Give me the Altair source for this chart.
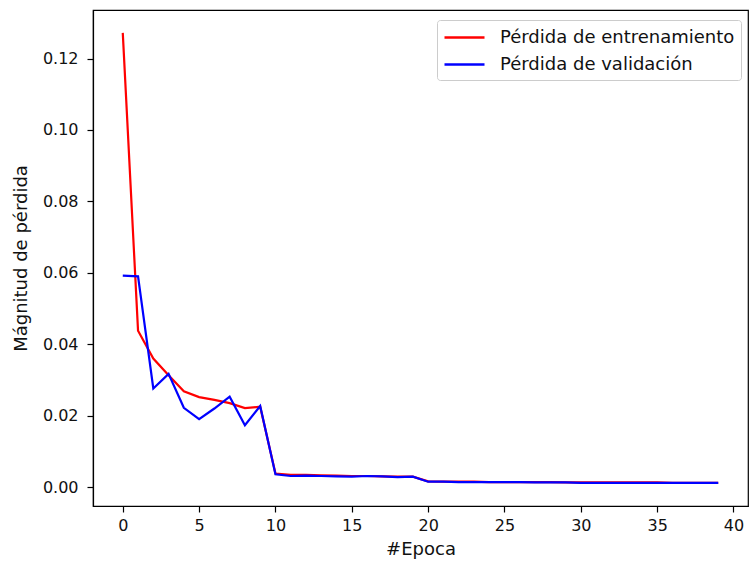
import altair as alt
import pandas as pd

epochs = list(range(40))
train_loss = [0.1272, 0.0438, 0.0360, 0.0313, 0.0268, 0.0252, 0.0244, 0.0235, 0.0221, 0.0225,
              0.0038, 0.0034, 0.0034, 0.0033, 0.0032, 0.0031, 0.0031, 0.0030, 0.0029, 0.0029,
              0.0016, 0.0015, 0.0015, 0.0015, 0.0014, 0.0014, 0.0014, 0.0014, 0.0014, 0.0013,
              0.0013, 0.0013, 0.0013, 0.0013, 0.0013, 0.0013, 0.0012, 0.0012, 0.0012, 0.0012]
val_loss = [0.0592, 0.0590, 0.0276, 0.0317, 0.0222, 0.0190, 0.0220, 0.0253, 0.0173, 0.0227,
            0.0036, 0.0031, 0.0032, 0.0031, 0.0030, 0.0029, 0.0031, 0.0030, 0.0028, 0.0029,
            0.0015, 0.0015, 0.0014, 0.0014, 0.0014, 0.0014, 0.0014, 0.0013, 0.0013, 0.0013,
            0.0012, 0.0012, 0.0012, 0.0012, 0.0012, 0.0012, 0.0012, 0.0012, 0.0012, 0.0012]
series_names = ["Pérdida de entrenamiento", "Pérdida de validación"]
series_colors = ["red", "blue"]

rows = []
for e, v in zip(epochs, train_loss):
    rows.append({"epoch": e, "loss": v, "serie": series_names[0], "ord": 0})
for e, v in zip(epochs, val_loss):
    rows.append({"epoch": e, "loss": v, "serie": series_names[1], "ord": 1})
df = pd.DataFrame(rows)

FONT = "DejaVu Sans"

chart = alt.Chart(df).mark_line(strokeWidth=2.2, clip=True).encode(
    x=alt.X("epoch:Q",
            scale=alt.Scale(domain=[-1.95, 40.95], nice=False, zero=False),
            axis=alt.Axis(values=[0, 5, 10, 15, 20, 25, 30, 35, 40], title="#Epoca",
                          format="d", grid=False)),
    y=alt.Y("loss:Q",
            scale=alt.Scale(domain=[-0.0053, 0.1336], nice=False, zero=False),
            axis=alt.Axis(values=[0.0, 0.02, 0.04, 0.06, 0.08, 0.1, 0.12],
                          title="Mágnitud de pérdida", format=".2f", grid=False)),
    color=alt.Color("serie:N",
                    scale=alt.Scale(domain=series_names, range=series_colors),
                    legend=alt.Legend(title=None, orient="none", legendX=344, legendY=10,
                                      symbolType="M-1,0H3", symbolSize=400,
                                      symbolStrokeWidth=2.4, labelFontSize=18,
                                      labelFont=FONT, labelColor="#111111",
                                      labelLimit=400,
                                      fillColor="white", strokeColor="#cccccc",
                                      cornerRadius=3, padding=6, rowPadding=6,
                                      labelOffset=34)),
    order="ord:Q",
).properties(
    width=655, height=496,
    padding={"left": 93, "top": 10, "right": 2, "bottom": 57},
    autosize=alt.AutoSizeParams(type="none"),
    background="white",
).configure_view(
    stroke="black", strokeWidth=1.2
).configure_axis(
    labelFont=FONT, titleFont=FONT, labelFontSize=16, titleFontSize=18,
    labelColor="#111111", titleColor="#111111", titleFontWeight="normal",
    domainColor="black", tickColor="black", tickSize=6, labelPadding=5,
    domainWidth=1.2, tickWidth=1.2,
).configure_axisX(
    titlePadding=7
).configure_axisY(
    titlePadding=12, labelPadding=9
)

chart.save("out.html", embed_options={"renderer": "svg", "actions": False})
